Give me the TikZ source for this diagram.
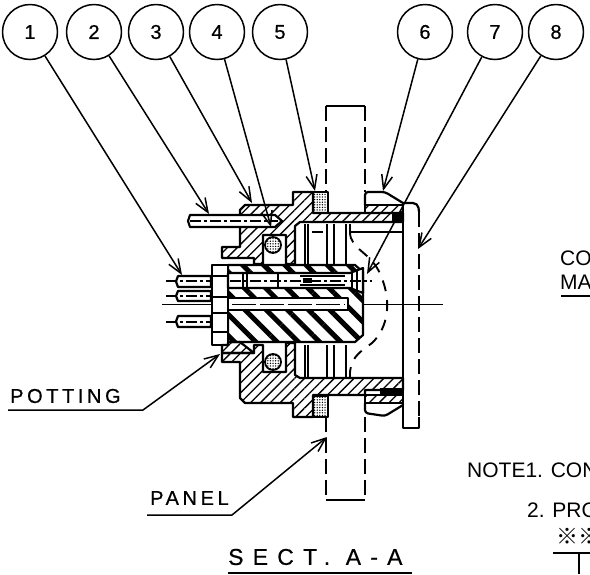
\documentclass[tikz,border=0pt]{standalone}
\usepackage{fontspec}
\setmainfont{Liberation Sans}
\newfontfamily\wideface[LetterSpace=18,FakeBold=0.6]{Liberation Sans}
\newfontfamily\widerface[LetterSpace=40,FakeBold=0.6]{Liberation Sans}
\newfontfamily\digitface[FakeBold=0.6]{Liberation Sans}
\newfontfamily\markface{Noto Sans CJK JP}
\usetikzlibrary{arrows.meta,patterns.meta}

\begin{document}
\begin{tikzpicture}[x=1pt,y=-1pt,line join=round,
  callout/.style={draw,circle,line width=1.5pt,minimum size=55pt,inner sep=0pt,font=\fontsize{20}{20}\digitface},
  leader/.style={line width=1.5pt,-{Straight Barb[length=14pt,width=11pt,line width=1.5pt]}},
  part/.style={draw,line width=2.2pt},
  shell/.style={part,pattern={Lines[angle=45,distance=7pt,line width=1.3pt]}},
  rubber/.style={part,pattern={Lines[angle=-45,distance=15pt,line width=5pt]}},
  stipple/.style={line width=1.8pt,pattern={Dots[distance=2.6pt,radius=0.75pt]}},
  bore/.style={part,fill=white},
  panel/.style={line width=1.9pt,dash pattern=on 15pt off 6pt},
  arcline/.style={line width=1.9pt,dash pattern=on 11pt off 9pt},
  axis/.style={line width=1pt},
  pinaxis/.style={line width=1.2pt,dash pattern=on 11pt off 3pt on 3pt off 3pt},
  label/.style={anchor=west,inner sep=0pt,font=\fontsize{20}{20}\selectfont},
  remark/.style={anchor=west,inner sep=0pt,font=\fontsize{21}{21}\selectfont}]
\useasboundingbox (0,0) rectangle (590,574);
\clip (0,0) rectangle (590,574);
\node[callout] (c1) at (30,32) {1};
\node[callout] (c2) at (94,32) {2};
\node[callout] (c3) at (156,32) {3};
\node[callout] (c4) at (217,32) {4};
\node[callout] (c5) at (280,32) {5};
\node[callout] (c6) at (425,32) {6};
\node[callout] (c7) at (495,32) {7};
\node[callout] (c8) at (556,32) {8};
\coordinate (t1) at (182,275);
\coordinate (t2) at (209,214);
\coordinate (t3) at (252,203);
\coordinate (t4) at (271,227);
\coordinate (t5) at (315,191);
\coordinate (t6) at (383,191);
\coordinate (t7) at (367,274);
\coordinate (t8) at (418,249);
\coordinate (t9) at (220,354);
\coordinate (t10) at (327,437);
\coordinate (k9) at (143,410);
\coordinate (k10) at (232,515);
\draw[line width=1.9pt] (326,106) -- (365,106);
\draw[line width=1.9pt] (326,500) -- (365,500);
\draw[panel] (365,106) -- (365,192);
\draw[panel] (326,106) -- (326,192);
\draw[panel] (326,417) -- (326,500);
\draw[panel] (365,417) -- (365,500);
\draw[shell] (240,228) -- (240,210) -- (245,205) -- (293,205) -- (293,192) -- (313,192) -- (313,213) -- (403,213) -- (403,222) -- (300,222) -- (295,226) -- (295,264) -- (286,264) -- (286,235) -- (263,235) -- (263,264) -- (254,264) -- (254,258) -- (222,258) -- (222,247) -- (240,247) -- cycle;
\draw[shell] (222,353) -- (222,362) -- (240,362) -- (240,398) -- (245,403) -- (293,403) -- (293,417) -- (313,417) -- (313,395) -- (365,395) -- (365,390) -- (403,390) -- (403,378) -- (300,378) -- (295,375) -- (295,343) -- (286,343) -- (286,372) -- (263,372) -- (263,345) -- (254,345) -- (254,353) -- cycle;
\draw[stipple] (313,192) rectangle (328,213);
\draw[stipple] (313,396) rectangle (328,417);
\draw[stipple] (273,245) circle (8);
\draw[stipple] (273,362) circle (8);
\draw[part] (305,224) -- (305,265);
\draw[part] (308,224) -- (308,265);
\draw[part] (327,224) -- (327,265);
\draw[part] (334,224) -- (334,265);
\draw[part] (346,224) -- (346,265);
\draw[part] (312,232) -- (323,232);
\draw[part] (305,345) -- (305,378);
\draw[part] (308,345) -- (308,378);
\draw[part] (327,345) -- (327,378);
\draw[part] (334,345) -- (334,378);
\draw[part] (346,345) -- (346,378);
\draw[part] (350,224) -- (350,232) -- (403,232);
\draw[part] (350,372) -- (350,378);
\draw[rubber] (228,265) -- (355,265) -- (363,272) -- (363,335) -- (355,342) -- (228,342) -- cycle;
\draw[bore] (212,265) rectangle (228,345);
\draw[part] (212,276) -- (228,276);
\draw[part] (212,297) -- (228,297);
\draw[part] (212,313) -- (228,313);
\draw[part] (212,332) -- (228,332);
\draw[shell] (222,345) -- (228,345) -- (228,342) -- (240,342) -- (254,353) -- (222,353) -- cycle;
\draw[bore] (228,273) -- (350,273) -- (363,268) -- (363,293) -- (350,288) -- (228,288) -- cycle;
\draw[part] (243,273) -- (243,288);
\draw[part] (247,273) -- (247,288);
\draw[part] (278,273) -- (278,288);
\draw[part] (352,272) -- (352,289);
\draw[part] (357,270) -- (357,291);
\draw[part] (300,276) -- (345,276);
\draw[part] (300,285) -- (345,285);
\fill (303,278) rectangle (312,283);
\draw[bore] (228,298) rectangle (348,310);
\draw[pinaxis] (230,281) -- (372,281);
\draw[bore] (178,276) -- (211,276) -- (211,287) -- (178,287) -- (176,281.5) -- cycle;
\draw[bore] (178,291) -- (211,291) -- (211,301) -- (178,301) -- (176,296) -- cycle;
\draw[bore] (178,316) -- (211,316) -- (211,327) -- (178,327) -- (176,321.5) -- cycle;
\draw[pinaxis] (166,281) -- (210,281);
\draw[pinaxis] (166,296) -- (210,296);
\draw[pinaxis] (166,322) -- (210,322);
\draw[axis] (162,304) -- (211,304);
\draw[axis,dash pattern=on 24pt off 4pt] (232,304) -- (345,304);
\draw[axis] (364,304) -- (443,304);
\draw[bore] (190,215) -- (275,215) -- (282,221) -- (275,227) -- (190,227) -- (188,221) -- cycle;
\draw[pinaxis] (190,221) -- (278,221);
\draw[part,rounded corners=3pt] (365,205) -- (365,192) -- (385,192) -- (403,203);
\draw[shell] (365,205) rectangle (403,213);
\draw[shell] (365,395) rectangle (403,403);
\draw[part,rounded corners=3pt] (365,403) -- (365,413) -- (385,416) -- (403,405);
\fill (392,213) rectangle (404,222);
\fill (380,388) rectangle (404,394);
\draw[part] (403,203) -- (403,417);
\draw[part,rounded corners=5pt] (403,203) -- (418,203) -- (419,212);
\draw[panel] (419,212) -- (419,417);
\draw[part] (403,417) -- (403,428) -- (419,428) -- (419,417);
\draw[arcline] (350,232) .. controls (350,250) and (372,252) .. (381,276) .. controls (392,302) and (388,328) .. (372,343) .. controls (362,351) and (352,355) .. (350,372);
\draw[leader] (c1) -- (t1);
\draw[leader] (c2) -- (t2);
\draw[leader] (c3) -- (t3);
\draw[leader] (c4) -- (t4);
\draw[leader] (c5) -- (t5);
\draw[leader] (c6) -- (t6);
\draw[leader] (c7) -- (t7);
\draw[leader] (c8) -- (t8);
\node[label] (potting) at (10,396) {\wideface POTTING};
\draw[leader] (8,410) -- (k9) -- (t9);
\node[label] (paneltext) at (150,498) {\wideface PANEL};
\draw[leader] (147,515) -- (k10) -- (t10);
\node[label,font=\fontsize{23}{23}\selectfont] (sect) at (228,557) {\widerface SECT. A-A};
\draw[line width=1.9pt] (228,573) -- (412,573);
\node[remark] (con) at (560,258) {CON};
\node[remark] (mai) at (560,282) {MAN};
\draw[line width=1.9pt] (561,296) -- (590,296);
\node[remark] (note1) at (467,470) {NOTE1. CON};
\node[remark] (note2) at (527,510) {2. PRO};
\node[remark,font=\fontsize{22}{22}\markface] (mark) at (556,536) {※※};
\draw[line width=1.9pt] (553,553) -- (590,553);
\draw[line width=1.9pt] (579,553) -- (579,574);
\end{tikzpicture}
\end{document}
